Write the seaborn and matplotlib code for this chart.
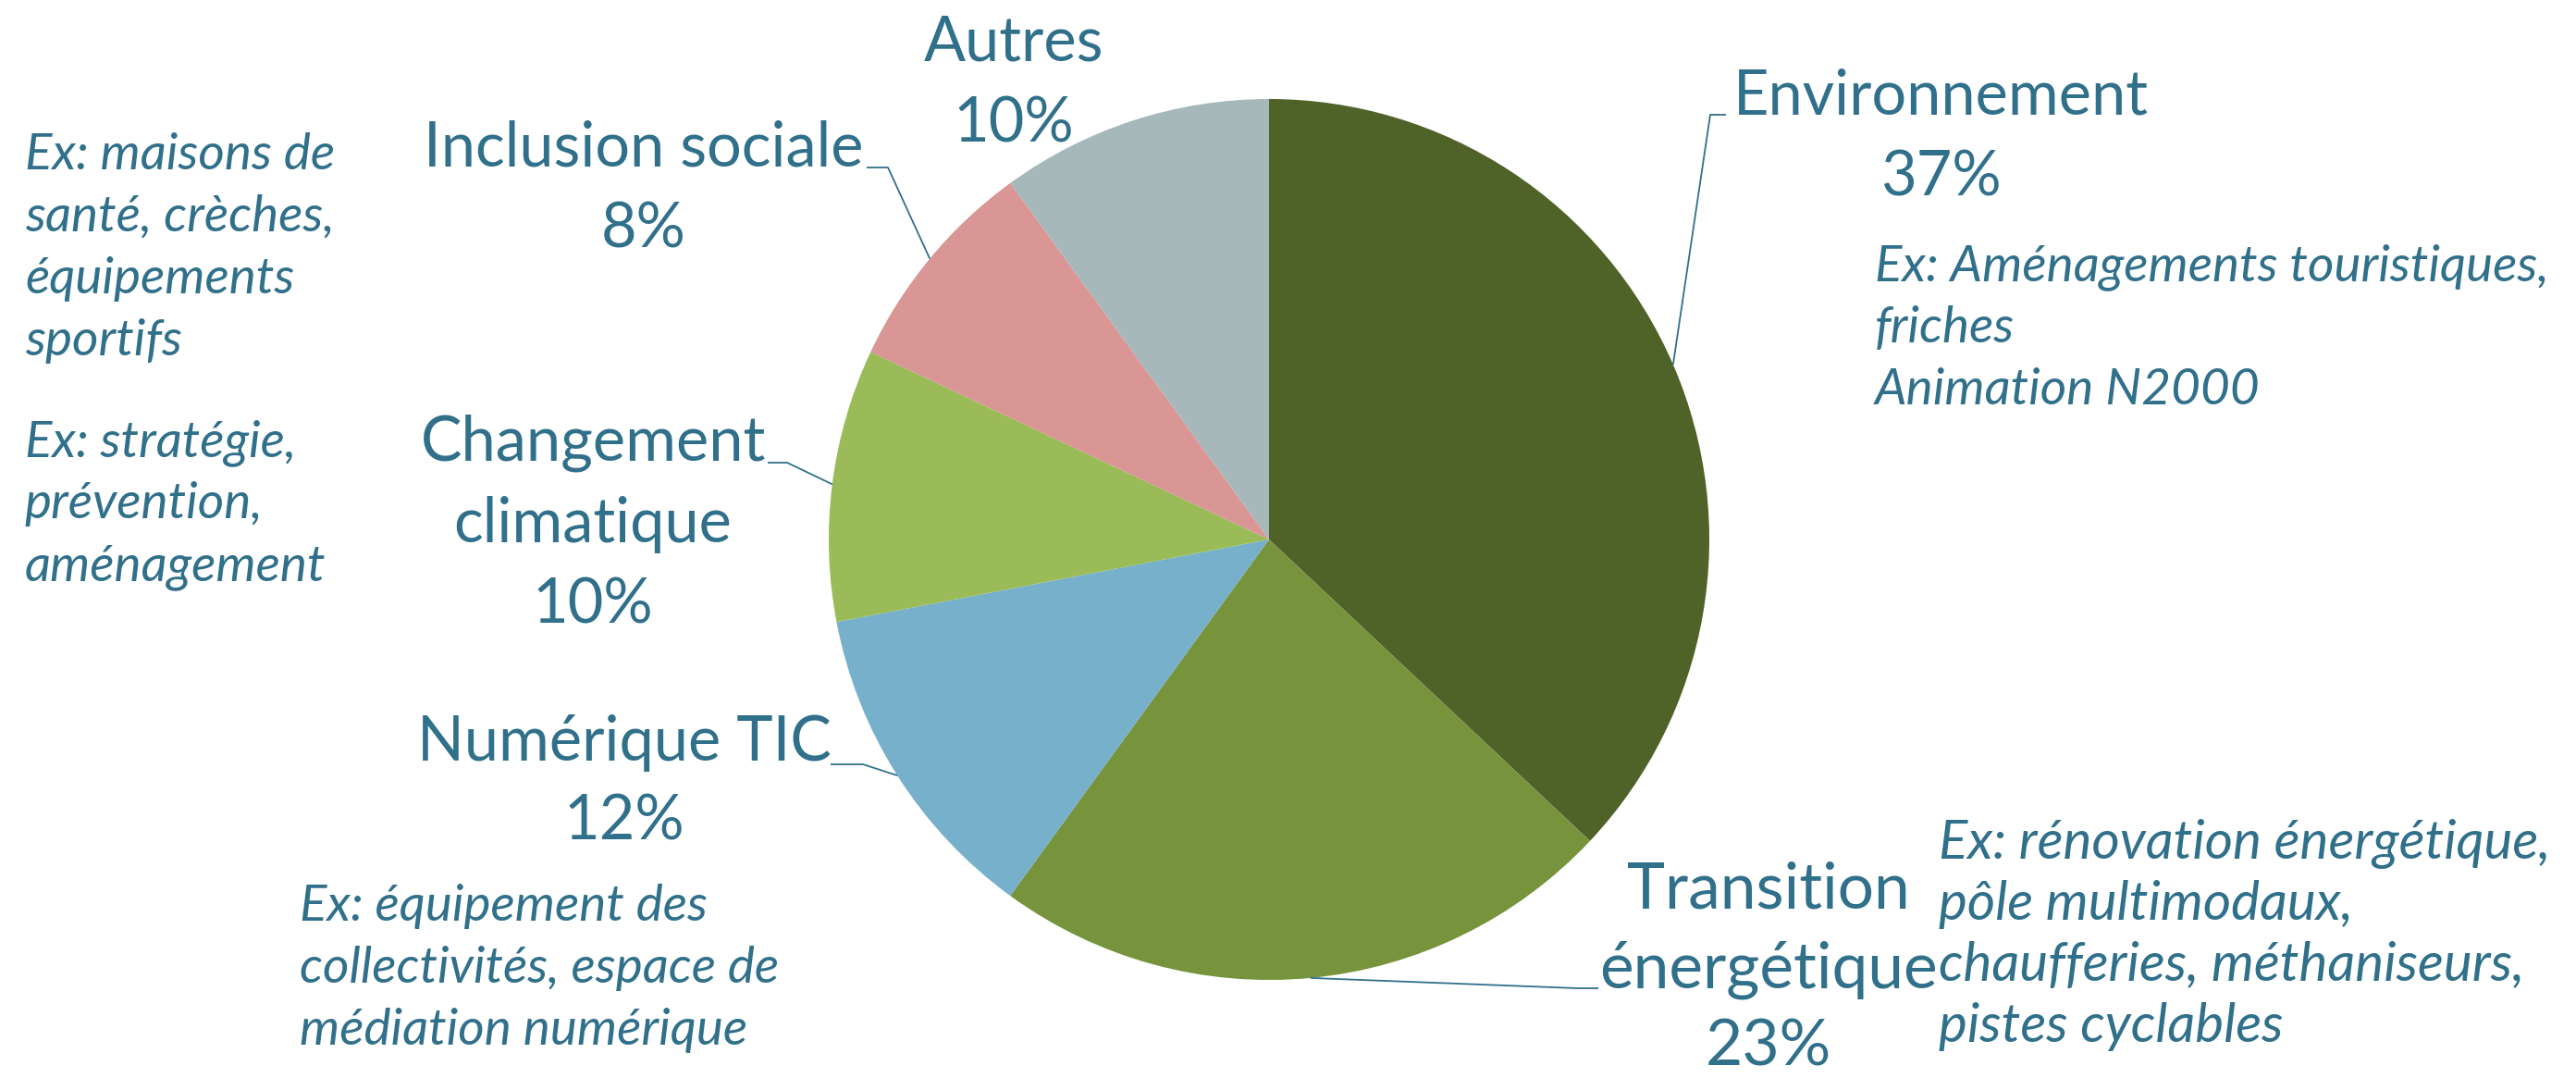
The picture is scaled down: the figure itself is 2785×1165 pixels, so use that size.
import numpy as np
import matplotlib
matplotlib.use("Agg")
import matplotlib.pyplot as plt
import seaborn as sns

# ---- data ----
categories = ["Environnement", "Transition\nénergétique", "Numérique TIC",
              "Changement\nclimatique", "Inclusion sociale", "Autres"]
values = [37, 23, 12, 10, 8, 10]
colors = ["#4F6228", "#77933C", "#77B0CA", "#9BBB59", "#D99694", "#A6B8BA"]
examples = {
    "Environnement": "Ex: Aménagements touristiques,\nfriches\nAnimation N2000",
    "Transition": "Ex: rénovation énergétique,\npôle multimodaux,\nchaufferies, méthaniseurs,\npistes cyclables",
    "Numérique": "Ex: équipement des\ncollectivités, espace de\nmédiation numérique",
    "Changement": "Ex: stratégie,\nprévention,\naménagement",
    "Inclusion": "Ex: maisons de\nsanté, crèches,\néquipements\nsportifs",
}

sns.set_theme(style="white")
plt.rcParams["font.family"] = ["Lato", "DejaVu Sans"]

W, H = 2785, 1165
TXT = "#31708A"
fig = plt.figure(figsize=(W / 100, H / 100), dpi=100)
ax = fig.add_axes([0, 0, 1, 1])

CX, CY, R = 1372, 583, 476
ax.pie(values, colors=colors, startangle=90, counterclock=False,
       center=(CX, H - CY), radius=R, wedgeprops=dict(linewidth=0))
ax.set_xlim(0, W)
ax.set_ylim(0, H)
ax.set_aspect("equal")
ax.axis("off")

# mid-angle anchors computed from data
fr = np.array(values) / np.sum(values)
cum = np.cumsum(fr) - fr / 2
ang = cum * 2 * np.pi  # clockwise from top
anchors = [(CX + R * np.sin(a), CY - R * np.cos(a)) for a in ang]


def Y(y):
    return H - y


def block(lines, x, y0, step, size, ha="center", style="normal"):
    for i, ln in enumerate(lines):
        ax.text(x, Y(y0 + i * step), ln, ha=ha, va="baseline", fontsize=size,
                color=TXT, style=style)


LS = 48   # label size
ES = 39.5   # example size
STEP = 88
ESTEP = 67

pct = [f"{v}%" for v in values]

# Environnement
block([categories[0], pct[0]], 2098, 124, STEP, LS)
block(examples["Environnement"].split("\n"), 2027, 303, ESTEP, ES, ha="left", style="italic")
# Transition énergétique
block(categories[1].split("\n") + [pct[1]], 1912, 982, 85, 50)
block(examples["Transition"].split("\n"), 2096, 928, 66, 42, ha="left", style="italic")
# Numérique TIC
block([categories[2], pct[2]], 675, 822, 86, LS)
block(examples["Numérique"].split("\n"), 324, 995, ESTEP, ES, ha="left", style="italic")
# Changement climatique
block(categories[3].split("\n") + [pct[3]], 641, 498, 88, LS)
block(examples["Changement"].split("\n"), 27, 493, 67, ES, ha="left", style="italic")
# Inclusion sociale
block([categories[4], pct[4]], 696, 179, 89, LS)
block(examples["Inclusion"].split("\n"), 27, 183, 67, ES, ha="left", style="italic")
# Autres
block([categories[5], pct[5]], 1096, 66, 88, LS)

# leader lines (anchor -> elbow -> label)
leaders = [
    (0, [(1849, 124), (1866, 124)]),
    (1, [(1705, 1068), (1728, 1068)]),
    (2, [(933, 826), (898, 826)]),
    (3, [(851, 500), (830, 500)]),
    (4, [(960, 181), (937, 181)]),
]
for idx, pts in leaders:
    xs = [anchors[idx][0]] + [p[0] for p in pts]
    ys = [Y(anchors[idx][1])] + [Y(p[1]) for p in pts]
    ax.plot(xs, ys, color=TXT, lw=1.3, solid_capstyle="butt")

fig.savefig("out.png", dpi=100, facecolor="white")
